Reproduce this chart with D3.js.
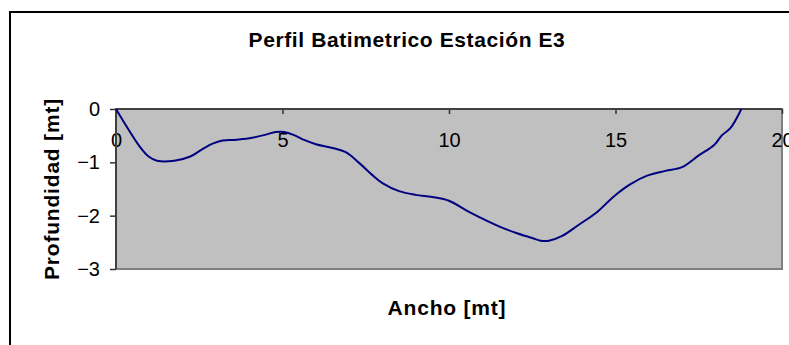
<!DOCTYPE html>
<html>
<head>
<meta charset="utf-8">
<script src="https://cdn.jsdelivr.net/npm/d3@7"></script>
<style>
  html, body { margin: 0; padding: 0; background: #ffffff; }
  svg { display: block; }
  text { font-family: "Liberation Sans", Arial, sans-serif; fill: #000; }
</style>
</head>
<body>
<svg id="chart" width="789" height="345"></svg>
<script>
// Cross-section survey: distance across the channel (m) and depth (m)
const ancho = [0, 0.73, 0.98, 1.23, 1.75, 2.23, 2.55, 2.9, 3.2, 3.55, 4.0, 4.5, 4.8, 5.05, 5.35, 5.65, 6.0, 6.5, 6.9, 7.3, 7.7, 8.0, 8.5, 9.0, 9.5, 10.0, 10.6, 11.5, 12.0, 12.5, 12.75, 13.0, 13.4, 13.9, 14.45, 14.95, 15.45, 15.95, 16.5, 17.0, 17.5, 17.97, 18.2, 18.45, 18.78];
const profundidad = [0, -0.72, -0.89, -0.97, -0.97, -0.89, -0.77, -0.65, -0.59, -0.58, -0.55, -0.48, -0.43, -0.43, -0.49, -0.58, -0.66, -0.73, -0.81, -1.01, -1.24, -1.39, -1.54, -1.61, -1.65, -1.72, -1.93, -2.2, -2.32, -2.42, -2.47, -2.47, -2.38, -2.17, -1.93, -1.64, -1.41, -1.25, -1.16, -1.09, -0.87, -0.67, -0.49, -0.36, 0];

const xTicks = [0, 5, 10, 15, 20];
const yTicks = [0, -1, -2, -3];

const titulo = "Perfil Batimetrico Estación E3";
const etiquetaX = "Ancho [mt]";
const etiquetaY = "Profundidad [mt]";

const svg = d3.select("#chart");

// Outer chart frame (runs past the right and bottom edges of the view)
svg.append("rect")
  .attr("x", 10).attr("y", 12)
  .attr("width", 800).attr("height", 360)
  .attr("fill", "#ffffff")
  .attr("stroke", "#000000")
  .attr("stroke-width", 2);

const plot = { left: 116, right: 782, top: 109, bottom: 269 };

const x = d3.scaleLinear().domain([0, 20]).range([plot.left, plot.right]);
const y = d3.scaleLinear().domain([-3, 0]).range([plot.bottom, plot.top]);

// Plot area
svg.append("rect")
  .attr("x", plot.left).attr("y", plot.top)
  .attr("width", plot.right - plot.left)
  .attr("height", plot.bottom - plot.top)
  .attr("fill", "#c0c0c0")
  .attr("stroke", "#808080")
  .attr("stroke-width", 2);

// Value axis on the left
const yAxis = svg.append("g")
  .attr("transform", `translate(${x(0)},0)`)
  .call(d3.axisLeft(y).tickValues(yTicks).tickSize(6).tickPadding(10).tickFormat(d3.format("d")));
yAxis.select(".domain").remove();
yAxis.selectAll(".tick line").attr("stroke", "#333").attr("stroke-width", 1.5);
yAxis.selectAll("text")
  .style("font-size", "20px")
  .style("font-family", "'Liberation Sans', Arial, sans-serif")
  .attr("fill", "#000");

// Category axis crossing at depth 0
const xAxis = svg.append("g")
  .attr("transform", `translate(0,${y(0)})`)
  .call(d3.axisBottom(x).tickValues(xTicks).tickSize(5).tickPadding(19).tickFormat(d3.format("d")));
xAxis.select(".domain").remove();
xAxis.selectAll(".tick line").attr("stroke", "#333").attr("stroke-width", 1.5);
xAxis.selectAll("text")
  .style("font-size", "20px")
  .style("font-family", "'Liberation Sans', Arial, sans-serif")
  .attr("fill", "#000");

// Axis lines
svg.append("line")
  .attr("x1", plot.left).attr("x2", plot.right)
  .attr("y1", y(0)).attr("y2", y(0))
  .attr("stroke", "#404040").attr("stroke-width", 2);
svg.append("line")
  .attr("x1", x(0)).attr("x2", x(0))
  .attr("y1", plot.top).attr("y2", plot.bottom)
  .attr("stroke", "#404040").attr("stroke-width", 2);

// Bed profile
const perfil = ancho.map((a, i) => [a, profundidad[i]]);
const linea = d3.line()
  .x(d => x(d[0]))
  .y(d => y(d[1]))
  .curve(d3.curveCatmullRom.alpha(0.5));

svg.append("path")
  .datum(perfil)
  .attr("d", linea)
  .attr("fill", "none")
  .attr("stroke", "#000080")
  .attr("stroke-width", 2);

// Titles
svg.append("text")
  .attr("x", 407).attr("y", 47)
  .attr("text-anchor", "middle")
  .style("font-size", "21px")
  .style("font-weight", "bold")
  .style("letter-spacing", "0.6px")
  .text(titulo);

svg.append("text")
  .attr("x", (plot.left + plot.right) / 2 - 2).attr("y", 315)
  .attr("text-anchor", "middle")
  .style("font-size", "21px")
  .style("font-weight", "bold")
  .style("letter-spacing", "0.8px")
  .text(etiquetaX);

svg.append("text")
  .attr("transform", `translate(59,${(plot.top + plot.bottom) / 2}) rotate(-90)`)
  .attr("text-anchor", "middle")
  .style("font-size", "21px")
  .style("font-weight", "bold")
  .style("letter-spacing", "0.8px")
  .text(etiquetaY);
</script>
</body>
</html>
